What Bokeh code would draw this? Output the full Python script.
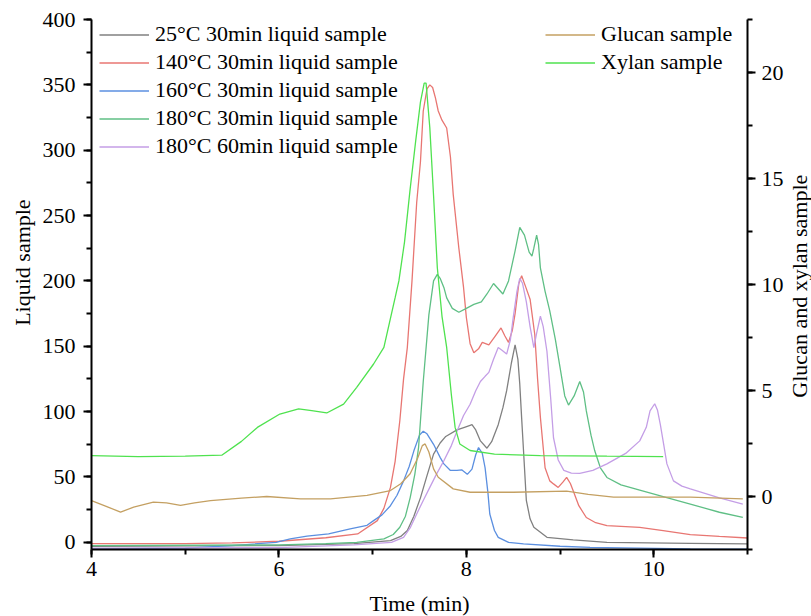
import math
from bokeh.plotting import figure
from bokeh.models import (Range1d, LinearAxis, Legend, LegendItem, Label,
                          SingleIntervalTicker)
from bokeh.embed import file_html
from bokeh.resources import INLINE

FONT = "Liberation Serif"

# ---------------- data ----------------
# Left axis: liquid samples
t25_x = [4.0, 6.0, 6.8, 7.19, 7.30, 7.37, 7.44, 7.51, 7.58, 7.65, 7.72, 7.78, 7.90, 7.98, 8.04,
         8.06, 8.10, 8.15, 8.22, 8.27, 8.34, 8.39, 8.43, 8.48, 8.52, 8.55, 8.57, 8.59, 8.61, 8.64,
         8.68, 8.72, 8.86, 9.14, 9.50, 10.39, 11.0]
t25_y = [-3, -2.5, -1, 1.3, 4.5, 9, 20, 34, 51, 67.5, 76, 81, 86, 88, 89.5,
         90, 86, 77.6, 72, 77, 90, 103, 116, 137, 151, 140, 121, 95, 70, 32,
         18, 11.5, 3.8, 1.8, 0, -0.8, -1.2]

t140_x = [4.0, 5.0, 5.5, 6.0, 6.5, 6.84, 7.05, 7.12, 7.19, 7.24, 7.29, 7.33, 7.37, 7.42, 7.47,
          7.51, 7.54, 7.58, 7.61, 7.64, 7.67, 7.70, 7.74, 7.79, 7.83, 7.86, 7.92, 7.97, 8.00, 8.04,
          8.08, 8.13, 8.17, 8.24, 8.31, 8.37, 8.41, 8.45, 8.49, 8.52, 8.56, 8.59, 8.63, 8.68, 8.73,
          8.76, 8.79, 8.84, 8.89, 8.93, 8.98, 9.03, 9.07, 9.11, 9.14, 9.20, 9.28, 9.38, 9.50, 9.85,
          10.1, 10.39, 10.7, 11.0]
t140_y = [-1.0, -1.0, -0.5, 0.8, 3.5, 6.4, 16.6, 26, 42, 62, 93, 125, 149, 200, 260,
          291, 330, 347, 350, 348, 340, 330, 323, 317, 295, 266, 225, 195, 172, 152,
          145, 148, 153, 151, 158, 164, 158, 153, 162, 175, 198, 204, 196, 186, 159,
          125, 95.6, 57, 47, 44.7, 42, 46, 49.7, 45, 39.5, 28, 19, 15, 12.8, 11.5,
          9, 5.9, 4.5, 3.3]

t160_x = [4.0, 5.0, 5.5, 5.97, 6.12, 6.3, 6.53, 6.76, 6.94, 7.01, 7.10, 7.19, 7.26, 7.33, 7.39,
          7.44, 7.50, 7.54, 7.58, 7.65, 7.72, 7.76, 7.83, 7.90, 7.95, 8.01, 8.06, 8.10, 8.13, 8.17,
          8.20, 8.23, 8.25, 8.30, 8.34, 8.45, 8.61, 9.0, 9.32, 10.39, 11.0]
t160_y = [-5, -4.5, -2.5, 0, 2.6, 4.8, 6.5, 10.2, 13, 16.6, 21, 28, 36, 47, 58,
          70, 82, 85, 83, 75, 65, 60, 55, 55, 55.5, 52, 56, 67, 72.5, 68,
          57, 38, 21.7, 9, 3.8, 0, -1.2, -3, -3.8, -5, -5.2]

t180_x = [4.0, 6.0, 6.5, 6.83, 7.12, 7.22, 7.29, 7.35, 7.40, 7.45, 7.49, 7.54, 7.60, 7.65, 7.69,
          7.72, 7.76, 7.79, 7.85, 7.92, 8.00, 8.08, 8.16, 8.22, 8.29, 8.34, 8.39, 8.45, 8.52, 8.57,
          8.62, 8.67, 8.70, 8.72, 8.75, 8.77, 8.79, 8.84, 8.89, 8.95, 9.00, 9.05, 9.09, 9.15, 9.21,
          9.25, 9.28, 9.33, 9.37, 9.43, 9.50, 9.65, 9.85, 10.1, 10.39, 10.7, 10.95]
t180_y = [-2.5, -2.0, -1, 0, 2.6, 6, 11.5, 20, 34, 52, 72.5, 123, 174, 200, 205,
          202, 195, 187, 179, 176, 179, 182, 184, 190, 198, 194, 190, 200, 223, 241,
          235, 222, 219, 225, 235, 228, 210, 192, 177, 155, 133.6, 112, 105, 112, 123,
          115, 100.5, 82, 70, 57, 49.6, 44, 40, 35, 29.3, 23, 19]

t180b_x = [4.0, 6.0, 6.8, 7.20, 7.33, 7.40, 7.47, 7.54, 7.61, 7.68, 7.76, 7.84, 7.90, 7.97, 8.04,
           8.10, 8.15, 8.20, 8.24, 8.29, 8.34, 8.38, 8.43, 8.47, 8.50, 8.54, 8.57, 8.60, 8.64, 8.68,
           8.72, 8.75, 8.79, 8.82, 8.86, 8.90, 8.93, 8.98, 9.04, 9.12, 9.21, 9.35, 9.50, 9.70, 9.85,
           9.92, 9.96, 10.01, 10.04, 10.07, 10.11, 10.14, 10.21, 10.30, 10.39, 10.70, 10.95]
t180b_y = [-4.5, -4, -2, 0, 3.8, 11, 21.7, 32, 42, 52, 62.4, 74, 85, 97, 105.6,
           116, 123, 127, 130, 140, 149, 147, 144, 155, 172, 192, 202, 198, 184, 165,
           149, 160, 173, 165, 146, 110, 80, 63, 55, 53, 52.7, 55, 60, 68, 77.6,
           88, 100.5, 106, 101, 90, 73, 60, 47, 43, 40.8, 34, 29.3]

# Right axis: glucan and xylan
glucan_x = [4.0, 4.15, 4.31, 4.45, 4.66, 4.80, 4.95, 5.10, 5.27, 5.60, 5.87, 6.23, 6.55, 6.94,
            7.19, 7.30, 7.40, 7.48, 7.53, 7.56, 7.60, 7.65, 7.70, 7.86, 8.04, 8.5, 9.07, 9.30,
            9.57, 10.39, 10.95]
glucan_y = [-0.19, -0.45, -0.74, -0.5, -0.27, -0.3, -0.42, -0.3, -0.19, -0.08, 0.0, -0.11, -0.11,
            0.05, 0.28, 0.6, 1.07, 1.8, 2.4, 2.48, 2.1, 1.3, 0.91, 0.36, 0.2, 0.2, 0.25, 0.1,
            -0.03, -0.03, -0.11]

xylan_x = [4.0, 4.5, 5.0, 5.39, 5.6, 5.77, 6.01, 6.21, 6.35, 6.51, 6.69, 6.83, 7.01, 7.12, 7.24,
           7.28, 7.34, 7.40, 7.46, 7.51, 7.55, 7.57, 7.61, 7.65, 7.69, 7.74, 7.79, 7.84, 7.88, 7.93,
           8.04, 8.3, 8.79, 9.5, 10.10]
xylan_y = [1.93, 1.88, 1.9, 1.95, 2.6, 3.26, 3.89, 4.13, 4.05, 3.94, 4.36, 5.15, 6.25, 7.03, 9.38,
           10.17, 12.0, 14.5, 16.8, 18.6, 19.5, 19.5, 17.4, 14.2, 10.8, 8.5, 7.03, 4.8, 3.26, 2.48,
           2.17, 2.0, 1.93, 1.9, 1.88]

left_labels = ["25°C 30min liquid sample", "140°C 30min liquid sample",
               "160°C 30min liquid sample", "180°C 30min liquid sample",
               "180°C 60min liquid sample"]
right_labels = ["Glucan sample", "Xylan sample"]
x_title = "Time (min)"
y_title = "Liquid sample"
y2_title = "Glucan and xylan sample"

# ---------------- figure ----------------
p = figure(width=811, height=616, output_backend="svg", toolbar_location=None,
           x_range=Range1d(4, 11), y_range=Range1d(-5.5, 400),
           min_border_left=91, min_border_right=64, min_border_top=19,
           min_border_bottom=67)
p.extra_y_ranges = {"r": Range1d(-2.5, 22.5)}
p.grid.visible = False
p.outline_line_color = None
p.background_fill_color = "white"
p.border_fill_color = "white"


def style_axis(ax):
    ax.axis_line_color = "black"
    ax.axis_line_width = 2
    ax.major_tick_line_color = "black"
    ax.major_tick_line_width = 2
    ax.minor_tick_line_color = "black"
    ax.minor_tick_line_width = 2
    ax.major_tick_in = 0
    ax.major_tick_out = 8
    ax.minor_tick_in = 0
    ax.minor_tick_out = 5
    ax.major_label_text_font = FONT
    ax.major_label_text_font_size = "22px"
    ax.major_label_text_color = "black"


p.xaxis.ticker = SingleIntervalTicker(interval=2, num_minor_ticks=2)
p.yaxis.ticker = SingleIntervalTicker(interval=50, num_minor_ticks=2)
for ax in list(p.xaxis) + list(p.yaxis):
    style_axis(ax)
p.xaxis.major_label_standoff = 4
p.yaxis.major_label_standoff = 8

rax = LinearAxis(y_range_name="r",
                 ticker=SingleIntervalTicker(interval=5, num_minor_ticks=2))
style_axis(rax)
rax.major_label_standoff = 6
p.add_layout(rax, "right")


def title_label(x, y, text, angle):
    return Label(x=x, y=y, text=text, angle=angle, text_font=FONT,
                 text_font_size="22px", text_color="black",
                 text_align="center", text_baseline="middle")


# axis titles placed in the border panels (positions in data units)
p.add_layout(title_label(11.555, 196, y2_title, math.pi / 2), "right")
p.add_layout(title_label(3.265, 214, y_title, math.pi / 2), "left")
p.add_layout(title_label(7.5, -46.5, x_title, 0), "below")

colors = ["#808080", "#e87672", "#5b8fe0", "#5fbf85", "#c49ee6"]
series = [(t25_x, t25_y), (t140_x, t140_y), (t160_x, t160_y),
          (t180_x, t180_y), (t180b_x, t180b_y)]
left_items = []
for (xs, ys), c, lab in zip(series, colors, left_labels):
    r = p.line(xs, ys, line_color=c, line_width=1.3)
    left_items.append(LegendItem(label=lab, renderers=[r]))

rg = p.line(glucan_x, glucan_y, line_color="#c4a062", line_width=1.3, y_range_name="r")
rx = p.line(xylan_x, xylan_y, line_color="#4fe24f", line_width=1.3, y_range_name="r")
right_items = [LegendItem(label=right_labels[0], renderers=[rg]),
               LegendItem(label=right_labels[1], renderers=[rx])]


def make_legend(items, loc):
    lg = Legend(items=items, location=loc)
    lg.background_fill_alpha = 0
    lg.border_line_color = None
    lg.label_text_font = FONT
    lg.label_text_font_size = "22px"
    lg.label_text_color = "black"
    lg.glyph_width = 50
    lg.glyph_height = 25
    lg.label_height = 25
    lg.label_standoff = 6
    lg.spacing = 2
    lg.padding = 0
    lg.margin = 0
    return lg


p.add_layout(make_legend(left_items, (8, 390)))
p.add_layout(make_legend(right_items, (454, 474)))

open("out.html", "w").write(file_html(p, INLINE))
